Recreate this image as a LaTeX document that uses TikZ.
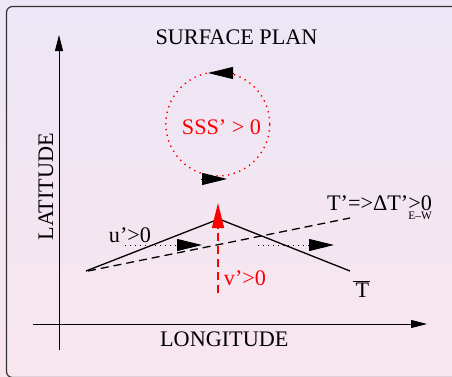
\documentclass[tikz,border=0pt]{standalone}
\usepackage{fontspec}
\setmainfont{Liberation Serif}
\usetikzlibrary{arrows.meta}
\definecolor{PlanTop}{HTML}{ECE6F6}
\definecolor{PlanBottom}{HTML}{F8E6EE}
\definecolor{PlanRed}{HTML}{FF0000}
\tikzset{every node/.style={font=\fontsize{22.3}{26}\selectfont,inner sep=0pt},
 axisline/.style={line width=.9bp,-{Triangle[length=16bp,width=8bp]}},
 bigtip/.style={-{Triangle[length=25bp,width=12bp]}},
 frontline/.style={line width=1.3bp},
 anomline/.style={line width=1.3bp,dash pattern=on 8bp off 5bp},
 flowline/.style={line width=.8bp,dash pattern=on 1bp off 4bp,bigtip},
 celldots/.style={draw=PlanRed,line width=1.4bp,dash pattern=on 1.4bp off 4.4bp}}

\begin{document}
\begin{tikzpicture}[x=1bp,y=1bp]
\useasboundingbox (0,0) rectangle (452,376);
\shade[top color=PlanTop,bottom color=PlanBottom] (0,0) rectangle (452,376);
\draw[black!80,line width=1.2bp,rounded corners=6bp] (6.5,-1.5) rectangle (470,369.5);
\coordinate (ybot) at (59,26);\coordinate (ytop) at (59,341);
\coordinate (xlft) at (33,52);\coordinate (xrgt) at (427,52);
\draw[axisline] (ybot)--(ytop);
\draw[axisline] (xlft)--(xrgt);
\node[anchor=base] (title) at (236.5,332){SURFACE PLAN};
\node[anchor=base] (lon) at (224.3,30){LONGITUDE};
\node[anchor=base,rotate=90] (lat) at (53,189.5){LATITUDE};
\node[circle,celldots,minimum size=104bp] (cell) at (217.8,252){};
\node[anchor=base,text=PlanRed] (sss) at (221.5,242){SSS’ > 0};
\draw[bigtip,line width=.8bp] (233,303)--(208,303);
\draw[bigtip,line width=.8bp] (201,197)--(227,197);
\coordinate (west) at (86,105);\coordinate (peak) at (219,157);\coordinate (east) at (350,105);
\draw[frontline] (west)--(peak)--(east);
\coordinate (dwest) at (88,105);\coordinate (deast) at (350,158);
\draw[anomline] (dwest)--(deast);
\foreach \a/\b in {125/202,258/334}
 {\draw[flowline] (\a,131)--(\b,131);}
\coordinate (vbot) at (218,83);\coordinate (vtop) at (218,173);
\draw[PlanRed,bigtip,line width=1.3bp,dash pattern=on 8bp off 5bp] (vbot)--(vtop);
\node[anchor=base] (ulab) at (130,134){u’>0};
\node[anchor=base,text=PlanRed] (vlab) at (245,91){v’>0};
\node[anchor=base] (tlab) at (379.5,166)
 {T’=>ΔT’\rlap{\raisebox{-9bp}{\fontsize{11.5}{12}\selectfont E–W}}>0};
\node[anchor=base] (tbar) at (361.5,79){$\overline{\mbox{\kern3bp T\kern1bp}}$};
\end{tikzpicture}
\end{document}
